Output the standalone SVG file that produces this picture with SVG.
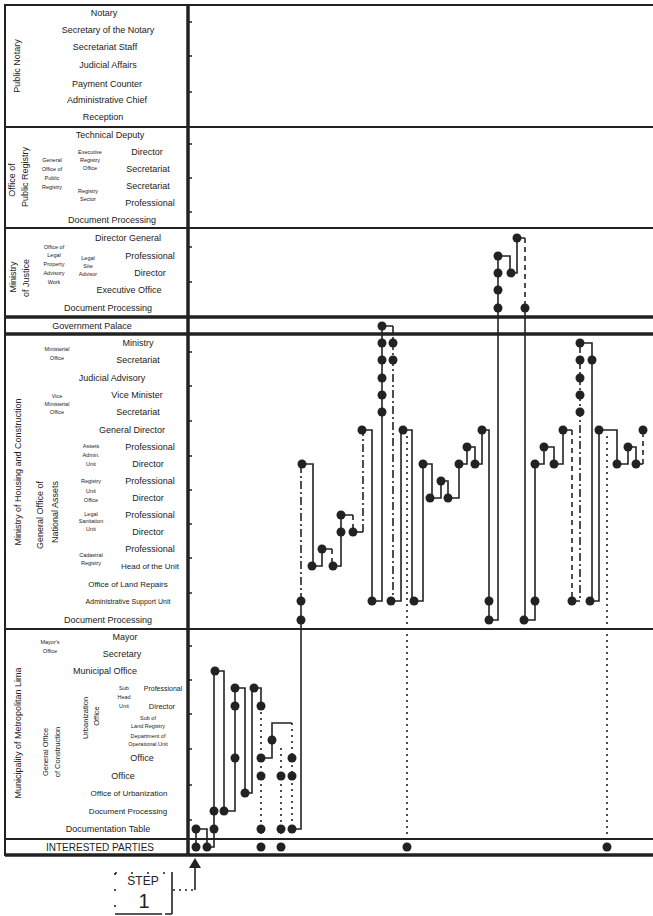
<svg xmlns="http://www.w3.org/2000/svg" width="653" height="916" viewBox="0 0 653 916">
<style>
.t{font-family:"Liberation Sans",Arial,sans-serif;font-size:9px;fill:#222;text-anchor:middle;dominant-baseline:central}
.s{font-family:"Liberation Sans",Arial,sans-serif;font-size:5.5px;fill:#222;text-anchor:middle;dominant-baseline:central}
.v{font-family:"Liberation Sans",Arial,sans-serif;font-size:9px;fill:#222;text-anchor:middle;dominant-baseline:central}
.vs{font-family:"Liberation Sans",Arial,sans-serif;font-size:7.5px;fill:#222;text-anchor:middle;dominant-baseline:central}
.fr{stroke:#222;stroke-width:2;fill:none}
.fk{stroke:#222;stroke-width:3.5;fill:none}
.ln{stroke:#222;stroke-width:1.6;fill:none}
.da{stroke:#222;stroke-width:1.6;fill:none;stroke-dasharray:5 4}
.dd{stroke:#222;stroke-width:1.6;fill:none;stroke-dasharray:8 3 2 3}
.do{stroke:#222;stroke-width:1.6;fill:none;stroke-dasharray:2 4}
.sp{stroke:#222;stroke-width:1.6;fill:none;stroke-dasharray:2 14}
.n{fill:#222}
.tk{stroke:#222;stroke-width:1.5}
</style>

<g id="frame">
<line class="fr" x1="5" y1="5" x2="653" y2="5"/>
<line class="fr" x1="5" y1="4" x2="5" y2="856"/>
<line class="fk" x1="188" y1="4" x2="188" y2="856"/>
<line class="fr" x1="5" y1="127" x2="653" y2="127"/>
<line class="fr" x1="5" y1="228" x2="653" y2="228"/>
<line class="fk" x1="5" y1="317" x2="653" y2="317"/>
<line class="fk" x1="5" y1="334" x2="653" y2="334"/>
<line class="fr" x1="5" y1="629" x2="653" y2="629"/>
<line class="fr" x1="5" y1="839" x2="653" y2="839"/>
<line class="fk" x1="5" y1="855" x2="653" y2="855"/>
</g>

<g id="ticks">
<path class="tk" d="M188,22h4M188,56h4M188,92h4M188,144h4M188,178h4M188,212h4M188,247h4M188,282h4M188,352h4M188,386h4M188,421h4M188,456h4M188,490h4M188,524h4M188,558h4M188,593h4M188,646h4M188,680h4M188,714h4M188,749h4M188,785h4M188,820h4"/>
</g>

<g id="public-notary">
<text class="v" transform="translate(17,66) rotate(-90)">Public Notary</text>
<text class="t" x="104" y="13">Notary</text>
<text class="t" x="108" y="30">Secretary of the Notary</text>
<text class="t" x="105" y="47">Secretariat Staff</text>
<text class="t" x="108" y="65">Judicial Affairs</text>
<text class="t" x="107" y="84">Payment Counter</text>
<text class="t" x="107" y="100">Administrative Chief</text>
<text class="t" x="103" y="117">Reception</text>
</g>

<g id="public-registry">
<text class="v" transform="translate(12,180) rotate(-90)">Office of</text>
<text class="v" transform="translate(25,177) rotate(-90)">Public Registry</text>
<text class="s" x="52" y="160">General</text>
<text class="s" x="52" y="169">Office of</text>
<text class="s" x="52" y="178">Public</text>
<text class="s" x="52" y="187">Registry</text>
<text class="s" x="90" y="152">Executive</text>
<text class="s" x="90" y="160">Registry</text>
<text class="s" x="90" y="168">Office</text>
<text class="s" x="88" y="191">Registry</text>
<text class="s" x="88" y="199">Sector</text>
<text class="t" x="110" y="135">Technical Deputy</text>
<text class="t" x="147" y="152">Director</text>
<text class="t" x="148" y="169">Secretariat</text>
<text class="t" x="148" y="186">Secretariat</text>
<text class="t" x="150" y="203">Professional</text>
<text class="t" x="112" y="220">Document Processing</text>
</g>

<g id="ministry-justice">
<text class="v" transform="translate(13,277) rotate(-90)">Ministry</text>
<text class="v" transform="translate(26,278) rotate(-90)">of Justice</text>
<text class="s" x="54" y="247">Office of</text>
<text class="s" x="54" y="255">Legal</text>
<text class="s" x="54" y="264">Property</text>
<text class="s" x="54" y="273">Advisory</text>
<text class="s" x="54" y="282">Work</text>
<text class="s" x="88" y="258">Legal</text>
<text class="s" x="88" y="266">Site</text>
<text class="s" x="88" y="274">Advisor</text>
<text class="t" x="128" y="238">Director General</text>
<text class="t" x="150" y="256">Professional</text>
<text class="t" x="150" y="273">Director</text>
<text class="t" x="129" y="290">Executive Office</text>
<text class="t" x="108" y="308">Document Processing</text>
</g>

<g id="government-palace">
<text class="t" x="92" y="326">Government Palace</text>
</g>

<g id="ministry-housing">
<text class="v" transform="translate(18,472) rotate(-90)">Ministry of Housing and Construction</text>
<text class="v" transform="translate(40,515) rotate(-90)">General Office of</text>
<text class="v" transform="translate(55,512) rotate(-90)">National Assets</text>
<text class="s" x="57" y="349">Ministerial</text>
<text class="s" x="57" y="358">Office</text>
<text class="s" x="57" y="396">Vice</text>
<text class="s" x="57" y="404">Ministerial</text>
<text class="s" x="57" y="412">Office</text>
<text class="s" x="91" y="446">Assets</text>
<text class="s" x="91" y="455">Admin.</text>
<text class="s" x="91" y="464">Unit</text>
<text class="s" x="91" y="481">Registry</text>
<text class="s" x="91" y="491">Unit</text>
<text class="s" x="91" y="500">Office</text>
<text class="s" x="91" y="514">Legal</text>
<text class="s" x="91" y="521">Sanitation</text>
<text class="s" x="91" y="529">Unit</text>
<text class="s" x="91" y="555">Cadastral</text>
<text class="s" x="91" y="563">Registry</text>
<text class="t" x="138" y="343">Ministry</text>
<text class="t" x="138" y="360">Secretariat</text>
<text class="t" x="112" y="378">Judicial Advisory</text>
<text class="t" x="137" y="395">Vice Minister</text>
<text class="t" x="138" y="412">Secretariat</text>
<text class="t" x="132" y="430">General Director</text>
<text class="t" x="150" y="447">Professional</text>
<text class="t" x="148" y="464">Director</text>
<text class="t" x="150" y="481">Professional</text>
<text class="t" x="148" y="498">Director</text>
<text class="t" x="150" y="515">Professional</text>
<text class="t" x="148" y="532">Director</text>
<text class="t" x="150" y="549">Professional</text>
<text class="t" x="150" y="566" style="font-size:8px">Head of the Unit</text>
<text class="t" x="128" y="584" style="font-size:8px">Office of Land Repairs</text>
<text class="t" x="128" y="601" style="font-size:7px">Administrative Support Unit</text>
<text class="t" x="108" y="620">Document Processing</text>
</g>

<g id="municipality">
<text class="v" transform="translate(18,733) rotate(-90)">Municipality of Metropolitan Lima</text>
<text class="vs" transform="translate(45,752) rotate(-90)">General Office</text>
<text class="vs" transform="translate(57,752) rotate(-90)">of Construction</text>
<text class="vs" transform="translate(85,718) rotate(-90)">Urbanization</text>
<text class="vs" transform="translate(96,716) rotate(-90)">Office</text>
<text class="s" x="50" y="642">Mayor's</text>
<text class="s" x="50" y="651">Office</text>
<text class="s" x="124" y="688">Sub</text>
<text class="s" x="124" y="697">Head</text>
<text class="s" x="124" y="706">Unit</text>
<text class="s" x="148" y="718">Sub of</text>
<text class="s" x="148" y="726">Land Registry</text>
<text class="s" x="148" y="736">Department of</text>
<text class="s" x="148" y="744">Operational Unit</text>
<text class="t" x="125" y="637">Mayor</text>
<text class="t" x="122" y="654">Secretary</text>
<text class="t" x="105" y="671">Municipal Office</text>
<text class="t" x="163" y="688" style="font-size:7px">Professional</text>
<text class="t" x="162" y="706" style="font-size:7.5px">Director</text>
<text class="t" x="142" y="758">Office</text>
<text class="t" x="123" y="776">Office</text>
<text class="t" x="129" y="793" style="font-size:8px">Office of Urbanization</text>
<text class="t" x="128" y="811" style="font-size:8px">Document Processing</text>
<text class="t" x="108" y="829">Documentation Table</text>
</g>

<g id="interested-parties">
<text class="t" x="100" y="847" style="font-size:10px">INTERESTED PARTIES</text>
</g>

<g id="step-1">
<path class="ln" d="M172,872V914M115,914H162M165,914H172"/>
<path class="sp" d="M115,873H172M115,873V914"/>
<text class="t" x="143" y="881" style="font-size:12px">STEP</text>
<text class="t" x="144" y="901" style="font-size:20px">1</text>
</g>

<g id="connectors">
<path class="do" d="M173,890H195"/>
<path class="ln" d="M195,890V866"/>
<polygon class="n" points="195,858 189,868 201,868"/>
<path class="ln" d="M196,847V829H207V847H214V671H224V811H235V688H245V793H252V688H261V706"/>
<path class="do" d="M261,706V847"/>
<path class="ln" d="M261,758H272V723H292"/>
<path class="do" d="M292,723V829M281,748V847"/>
<path class="ln" d="M292,829H301V601"/>
<path class="dd" d="M301,601V464"/>
<path class="ln" d="M302,464H313V566H322V549H332"/>
<path class="da" d="M332,549V566"/>
<path class="ln" d="M333,566H341V515H353"/>
<path class="da" d="M353,515V532"/>
<path class="ln" d="M353,532H363"/>
<path class="dd" d="M363,532V430"/>
<path class="ln" d="M362,430H372V601H382V326H393"/>
<path class="dd" d="M393,326V601"/>
<path class="ln" d="M391,601H401V430H412V601H423V464H432V498H441V481H448V498H459V464H467V447H475V464H482V430H489V620H498V256H510V273H517V238H525"/>
<path class="da" d="M525,238V308"/>
<path class="ln" d="M525,308V620H535V464H544V447H554V464H563V430H572"/>
<path class="da" d="M572,430V601"/>
<path class="dd" d="M572,601H580V343"/>
<path class="ln" d="M580,343H592V601H599V430H617V464H628V447H636V464H643"/>
<path class="da" d="M643,464V430"/>
<path class="do" d="M407,436V847M607,436V847"/>
</g>

<g id="nodes" class="n">
<circle cx="196" cy="847" r="4.5"/><circle cx="196" cy="829" r="4.5"/><circle cx="207" cy="847" r="4.5"/>
<circle cx="214" cy="829" r="4.5"/><circle cx="214" cy="811" r="4.5"/><circle cx="215" cy="671" r="4.5"/>
<circle cx="224" cy="811" r="4.5"/><circle cx="235" cy="688" r="4.5"/><circle cx="235" cy="706" r="4.5"/><circle cx="235" cy="758" r="4.5"/>
<circle cx="245" cy="793" r="4.5"/><circle cx="254" cy="688" r="4.5"/>
<circle cx="261" cy="706" r="4.5"/><circle cx="261" cy="758" r="4.5"/><circle cx="261" cy="776" r="4.5"/><circle cx="261" cy="829" r="4.5"/><circle cx="261" cy="847" r="4.5"/>
<circle cx="272" cy="740" r="4.5"/>
<circle cx="281" cy="776" r="4.5"/><circle cx="281" cy="829" r="4.5"/><circle cx="281" cy="847" r="4.5"/>
<circle cx="292" cy="758" r="4.5"/><circle cx="292" cy="776" r="4.5"/><circle cx="292" cy="829" r="4.5"/>
<circle cx="301" cy="620" r="4.5"/><circle cx="301" cy="601" r="4.5"/><circle cx="302" cy="464" r="4.5"/>
<circle cx="312" cy="566" r="4.5"/><circle cx="322" cy="549" r="4.5"/><circle cx="333" cy="566" r="4.5"/>
<circle cx="341" cy="532" r="4.5"/><circle cx="341" cy="515" r="4.5"/><circle cx="353" cy="532" r="4.5"/>
<circle cx="362" cy="430" r="4.5"/><circle cx="372" cy="601" r="4.5"/>
<circle cx="382" cy="326" r="4.5"/><circle cx="382" cy="343" r="4.5"/><circle cx="382" cy="360" r="4.5"/><circle cx="382" cy="378" r="4.5"/><circle cx="382" cy="395" r="4.5"/><circle cx="382" cy="412" r="4.5"/>
<circle cx="393" cy="343" r="4.5"/><circle cx="393" cy="360" r="4.5"/><circle cx="391" cy="601" r="4.5"/>
<circle cx="403" cy="430" r="4.5"/><circle cx="414" cy="601" r="4.5"/><circle cx="423" cy="464" r="4.5"/>
<circle cx="430" cy="498" r="4.5"/><circle cx="441" cy="481" r="4.5"/><circle cx="448" cy="498" r="4.5"/>
<circle cx="459" cy="464" r="4.5"/><circle cx="467" cy="447" r="4.5"/><circle cx="475" cy="464" r="4.5"/>
<circle cx="482" cy="430" r="4.5"/><circle cx="489" cy="601" r="4.5"/><circle cx="489" cy="620" r="4.5"/>
<circle cx="498" cy="256" r="4.5"/><circle cx="498" cy="273" r="4.5"/><circle cx="498" cy="290" r="4.5"/><circle cx="498" cy="308" r="4.5"/>
<circle cx="511" cy="273" r="4.5"/><circle cx="517" cy="238" r="4.5"/><circle cx="525" cy="308" r="4.5"/>
<circle cx="524" cy="620" r="4.5"/><circle cx="535" cy="601" r="4.5"/><circle cx="535" cy="464" r="4.5"/>
<circle cx="544" cy="447" r="4.5"/><circle cx="554" cy="464" r="4.5"/><circle cx="563" cy="430" r="4.5"/>
<circle cx="572" cy="601" r="4.5"/>
<circle cx="580" cy="343" r="4.5"/><circle cx="580" cy="360" r="4.5"/><circle cx="580" cy="378" r="4.5"/><circle cx="580" cy="395" r="4.5"/><circle cx="580" cy="412" r="4.5"/>
<circle cx="592" cy="360" r="4.5"/><circle cx="590" cy="601" r="4.5"/>
<circle cx="599" cy="430" r="4.5"/><circle cx="617" cy="464" r="4.5"/><circle cx="628" cy="447" r="4.5"/>
<circle cx="636" cy="464" r="4.5"/><circle cx="643" cy="430" r="4.5"/>
<circle cx="407" cy="847" r="4.5"/><circle cx="607" cy="847" r="4.5"/>
</g>
</svg>
